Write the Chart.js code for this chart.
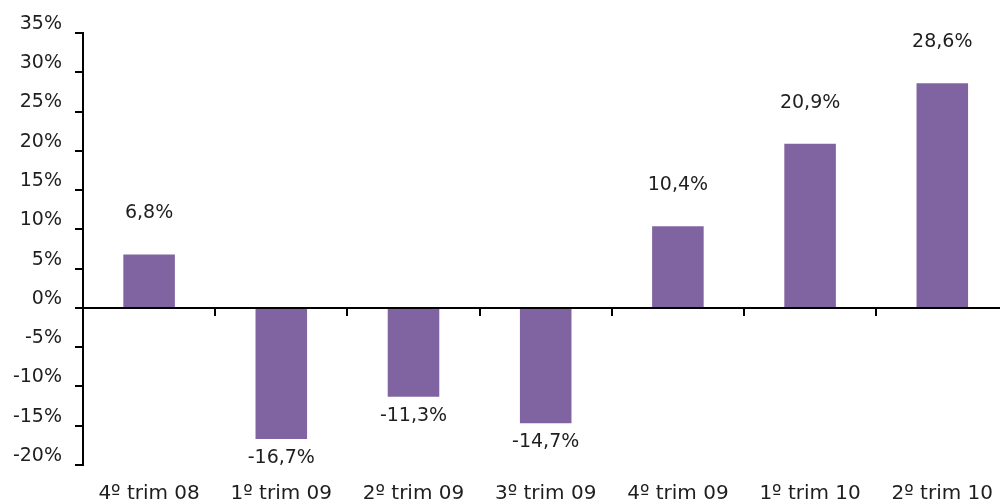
<!DOCTYPE html>
<html>
<head>
<meta charset="utf-8">
<script src="https://cdn.jsdelivr.net/npm/chart.js@4.4.1/dist/chart.umd.min.js"></script>
<style>
  html,body{margin:0;padding:0;background:#fff;overflow:hidden}
  #wrap{position:relative;width:1010px;height:501px}
</style>
</head>
<body>
<div id="wrap"><canvas id="c"></canvas></div>
<script>
// data
const quarters = ['4º trim 08','1º trim 09','2º trim 09','3º trim 09','4º trim 09','1º trim 10','2º trim 10'];
const growth = [6.8, -16.7, -11.3, -14.7, 10.4, 20.9, 28.6];
const yMin = -20, yMax = 35, yStep = 5;

const fmt = v => (v.toFixed(1)).replace('.', ',') + '%';
const FONT = { family: '"DejaVu Sans", sans-serif', size: 19 };
const INK = '#1e1e1e';

// value labels above/below each bar
const barLabels = {
  id: 'barLabels',
  afterDatasetsDraw(chart) {
    const ctx = chart.ctx;
    const meta = chart.getDatasetMeta(0);
    ctx.save();
    ctx.font = FONT.size + 'px ' + FONT.family;
    ctx.fillStyle = INK;
    ctx.textAlign = 'center';
    ctx.textBaseline = 'middle';
    meta.data.forEach((bar, i) => {
      const v = growth[i];
      const y = v >= 0 ? bar.y - 41 : bar.y + 19;
      ctx.fillText(fmt(v), bar.x, y);
    });
    ctx.restore();
  }
};

new Chart(document.getElementById('c'), {
  type: 'bar',
  data: {
    labels: quarters,
    datasets: [{
      data: growth,
      backgroundColor: '#8064A2',
      borderWidth: 0,
      barPercentage: 0.39,
      categoryPercentage: 1
    }]
  },
  options: {
    responsive: true,
    maintainAspectRatio: false,
    animation: false,
    layout: { padding: { top: 33, right: 0, bottom: 0, left: 0 } },
    plugins: { legend: { display: false }, tooltip: { enabled: false } },
    scales: {
      x: {
        type: 'category',
        offset: true,
        grid: { display: false, drawTicks: false },
        border: { display: false },
        ticks: { color: INK, font: { family: FONT.family, size: 20 }, padding: 17, maxRotation: 0, autoSkip: false },
        afterFit: s => { s.height = 36; }
      },
      x0: {
        type: 'category',
        position: { y: 0 },
        offset: true,
        grid: { offset: true, drawOnChartArea: false, tickLength: 7, color: '#000', lineWidth: 2 },
        border: { display: true, color: '#000', width: 2 },
        ticks: { display: false }
      },
      y: {
        min: yMin,
        max: yMax,
        ticks: {
          stepSize: yStep,
          color: INK,
          font: FONT,
          padding: 13,
          labelOffset: -9,
          callback: v => v + '%'
        },
        grid: { drawOnChartArea: false, tickLength: 8, color: '#000', lineWidth: 2 },
        border: { display: true, color: '#000', width: 2 },
        afterFit: s => { s.width = 83; }
      }
    }
  },
  plugins: [barLabels]
});
</script>
</body>
</html>
